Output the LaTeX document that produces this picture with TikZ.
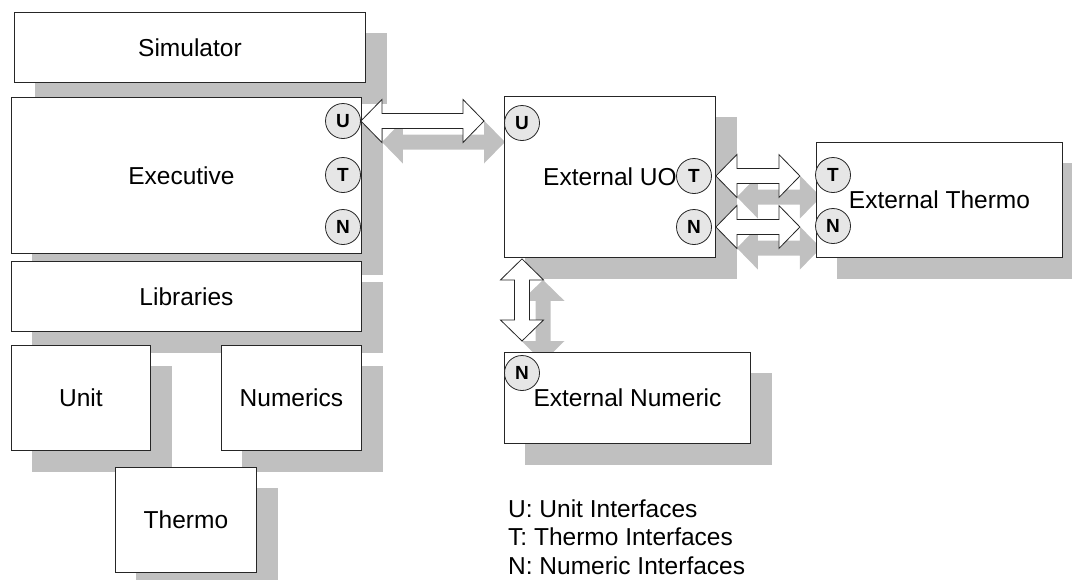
\documentclass[tikz,border=0pt]{standalone}
\usepackage{fontspec}
\setmainfont{Liberation Sans}
\usetikzlibrary{calc,backgrounds}
\definecolor{shadowgray}{RGB}{192,192,192}
\definecolor{portgray}{RGB}{230,230,230}
\newcommand\hdarrow[3]{\path[#1] (#2) -- ($(#2)+(21,-21.5)$) -- ($(#2)+(21,-7.5)$) -- ($(#3)+(-21,-7.5)$) -- ($(#3)+(-21,-21.5)$) -- (#3) -- ($(#3)+(-21,21.5)$) -- ($(#3)+(-21,7.5)$) -- ($(#2)+(21,7.5)$) -- ($(#2)+(21,21.5)$) -- cycle;}
\newcommand\vdarrow[3]{\path[#1] (#2) -- ($(#2)+(21.5,21)$) -- ($(#2)+(7.5,21)$) -- ($(#3)+(7.5,-21)$) -- ($(#3)+(21.5,-21)$) -- (#3) -- ($(#3)+(-21.5,-21)$) -- ($(#3)+(-7.5,-21)$) -- ($(#2)+(-7.5,21)$) -- ($(#2)+(-21.5,21)$) -- cycle;}
\begin{document}
\begin{tikzpicture}[x=1pt,y=-1pt,
  blk/.style={draw=black!85,line width=0.9pt,fill=white,inner sep=0pt,anchor=north west,font=\fontsize{24.5}{28}\selectfont},
  port/.style={circle,draw=black!85,line width=0.8pt,fill=portgray,minimum size=35pt,inner sep=0pt,font=\fontsize{19}{22}\selectfont\bfseries},
  warrow/.style={fill=white,draw=black!85,line width=0.8pt,line join=miter},
  sarrow/.style={fill=shadowgray},
  leg/.style={anchor=base west,inner sep=0pt,font=\fontsize{24.5}{28}\selectfont}]
\useasboundingbox (0,0) rectangle (1072,579);
% boxes
\node[blk,minimum width=351pt,minimum height=70pt] (sim) at (14,12) {Simulator};
\node[blk,minimum width=350pt,minimum height=156pt] (exe) at (11,97) {Executive\hspace*{10pt}};
\node[blk,minimum width=350pt,minimum height=70pt] (lib) at (11,261) {Libraries};
\node[blk,minimum width=139pt,minimum height=105pt] (unit) at (11,345) {Unit};
\node[blk,minimum width=140pt,minimum height=105pt] (num) at (221,345) {Numerics};
\node[blk,minimum width=141pt,minimum height=105pt] (thermo) at (115,467) {Thermo};
\node[blk,minimum width=211pt,minimum height=161pt] (extuo) at (504,96) {External UO};
\node[blk,minimum width=246pt,minimum height=115pt] (extth) at (816,142) {External Thermo};
\node[blk,minimum width=246pt,minimum height=91pt] (extnum) at (504,352) {External Numeric};
% ports
\node[port] (eU) at (343,121) {U};
\node[port] (eT) at (343,175) {T};
\node[port] (eN) at (343,227) {N};
\node[port] (uU) at (522,123) {U};
\node[port] (uT) at (694,176) {T};
\node[port] (uN) at (694,227) {N};
\node[port] (tT) at (833,175) {T};
\node[port] (tN) at (833,226) {N};
\node[port] (nN) at (522,373) {N};
% arrow end points
\coordinate (uaR) at (484,121);
\coordinate (taL) at (extuo.east |- uT);
\coordinate (taR) at ($(taL)+(84,0)$);
\coordinate (naL) at (extuo.east |- uN);
\coordinate (naR) at ($(naL)+(84,0)$);
\coordinate (vaT) at ($(extuo.south -| uU)+(0,1)$);
\coordinate (vaB) at (522,341);
% white arrows
\hdarrow{warrow}{eU.east}{uaR}
\hdarrow{warrow}{taL}{taR}
\hdarrow{warrow}{naL}{naR}
\vdarrow{warrow}{vaT}{vaB}
% legend
\node[leg] (leg1) at (508,517) {U: Unit Interfaces};
\node[leg] (leg2) at (508,545.5) {T: Thermo Interfaces};
\node[leg] (leg3) at (508,574) {N: Numeric Interfaces};
% shadows
\begin{pgfonlayer}{background}
\foreach \n in {sim,exe,lib,unit,num,thermo,extuo,extth,extnum}{
  \fill[shadowgray] ($(\n.north west)+(21,21)$) rectangle ($(\n.south east)+(21,21)$);
}
\begin{scope}[transform canvas={xshift=21pt,yshift=-21pt}]
\hdarrow{sarrow}{eU.east}{uaR}
\hdarrow{sarrow}{taL}{taR}
\hdarrow{sarrow}{naL}{naR}
\vdarrow{sarrow}{vaT}{vaB}
\end{scope}
\end{pgfonlayer}
\end{tikzpicture}
\end{document}
